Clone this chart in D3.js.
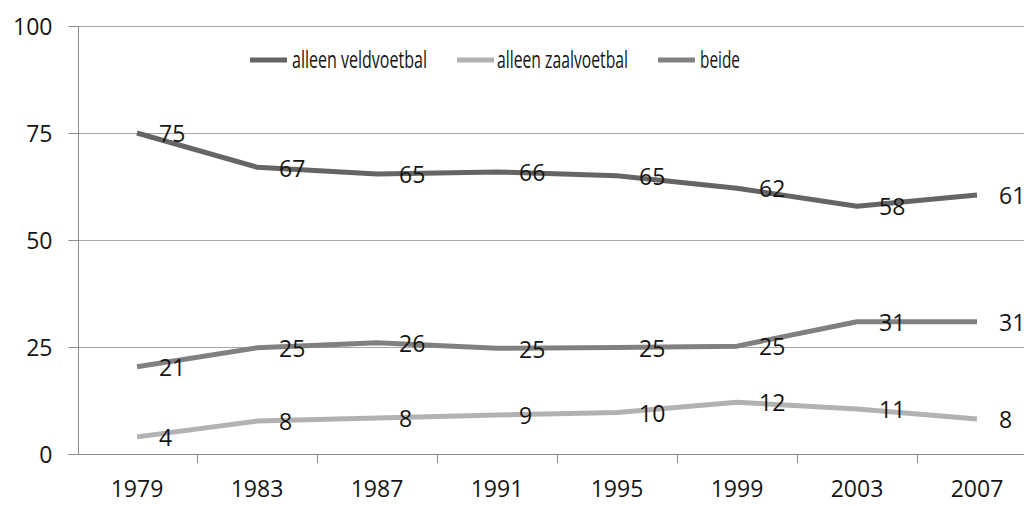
<!DOCTYPE html>
<html>
<head>
<meta charset="utf-8">
<script src="https://cdn.jsdelivr.net/npm/d3@7"></script>
<style>
  html, body { margin: 0; padding: 0; background: #fff; }
  svg { display: block; }
  text { font-family: "Open Sans", "DejaVu Sans", sans-serif; fill: #151515; }
</style>
</head>
<body>
<svg id="chart" width="1024" height="507"></svg>
<script>
const years = ["1979", "1983", "1987", "1991", "1995", "1999", "2003", "2007"];
const seriesNames = ["alleen veldvoetbal", "alleen zaalvoetbal", "beide"];
const veldvoetbal = [75, 67, 65.4, 65.9, 65, 62.1, 57.9, 60.5];
const zaalvoetbal = [4, 7.7, 8.4, 9.1, 9.7, 12.1, 10.5, 8.2];
const beide = [20.4, 24.8, 26, 24.7, 24.9, 25.2, 30.9, 30.9];
const veldLabels = ["75", "67", "65", "66", "65", "62", "58", "61"];
const zaalLabels = ["4", "8", "8", "9", "10", "12", "11", "8"];
const beideLabels = ["21", "25", "26", "25", "25", "25", "31", "31"];
const yTicks = [0, 25, 50, 75, 100];

const series = [
  { name: seriesNames[0], values: veldvoetbal, labels: veldLabels, color: "#656565" },
  { name: seriesNames[1], values: zaalvoetbal, labels: zaalLabels, color: "#b2b2b2" },
  { name: seriesNames[2], values: beide, labels: beideLabels, color: "#808080" }
];

const svg = d3.select("#chart");
const mLeft = 78, mTop = 26, mBottom = 454, mRight = 1024;

const x = d3.scaleBand().domain(years).range([77, 1037]).padding(0);
const y = d3.scaleLinear().domain([0, 100]).range([mBottom, mTop]);

// gridlines
svg.append("g").selectAll("line").data(yTicks.filter(d => d > 0)).join("line")
  .attr("x1", mLeft).attr("x2", mRight)
  .attr("y1", d => y(d) + 0.5).attr("y2", d => y(d) + 0.5)
  .attr("stroke", "#a6a6a6").attr("stroke-width", 1);

// y axis
const yAxis = svg.append("g").attr("transform", `translate(${mLeft + 0.5},0)`)
  .call(d3.axisLeft(y).tickValues(yTicks).tickSize(10).tickPadding(16).tickFormat(d3.format("d")));
yAxis.select(".domain").attr("stroke", "#8c8c8c").attr("d", `M0,${mTop}V${mBottom}`);
yAxis.selectAll(".tick line").attr("stroke", "#8c8c8c");
yAxis.selectAll(".tick text").attr("font-size", "23px").attr("font-family", null).attr("fill", "#151515").attr("dy", "0.36em");

// x axis
const xAxis = svg.append("g").attr("transform", `translate(0,${mBottom + 0.5})`)
  .call(d3.axisBottom(x).tickSize(0).tickPadding(34));
xAxis.select(".domain").attr("stroke", "#8c8c8c").attr("d", `M${mLeft - 10},0H${mRight}`);
xAxis.selectAll(".tick text").attr("font-size", "23px").attr("font-family", null).attr("fill", "#151515").attr("dy", "0.36em");
// tick marks between categories
const boundaries = years.slice(1).map(d => x(d));
svg.append("g").selectAll("line").data(boundaries).join("line")
  .attr("x1", d => Math.round(d) + 0.5).attr("x2", d => Math.round(d) + 0.5)
  .attr("y1", mBottom).attr("y2", mBottom + 9)
  .attr("stroke", "#8c8c8c");

// lines
const cx = d => x(d) + x.bandwidth() / 2;
const line = d3.line().x((d, i) => cx(years[i])).y(d => y(d));
svg.append("g").selectAll("path").data(series).join("path")
  .attr("d", s => line(s.values))
  .attr("fill", "none").attr("stroke", s => s.color)
  .attr("stroke-width", 5).attr("stroke-linejoin", "round");

// data labels
series.forEach(s => {
  svg.append("g").selectAll("text").data(s.values).join("text")
    .attr("x", (d, i) => cx(years[i]) + 22)
    .attr("y", d => y(d) + 1)
    .attr("dy", "0.36em")
    .attr("font-size", "23px")
    .text((d, i) => s.labels[i]);
});

// legend
const legendItems = [
  { x: 250, tx: 292, tw: 135 },
  { x: 457, tx: 497, tw: 131 },
  { x: 658, tx: 700, tw: 40 }
];
const lg = svg.append("g");
series.forEach((s, i) => {
  const L = legendItems[i];
  lg.append("line").attr("x1", L.x).attr("x2", L.x + 37).attr("y1", 60).attr("y2", 60)
    .attr("stroke", s.color).attr("stroke-width", 5);
  lg.append("text").attr("x", L.tx).attr("y", 68)
    .attr("font-size", "23px")
    .attr("textLength", L.tw).attr("lengthAdjust", "spacingAndGlyphs")
    .text(s.name);
});
</script>
</body>
</html>
